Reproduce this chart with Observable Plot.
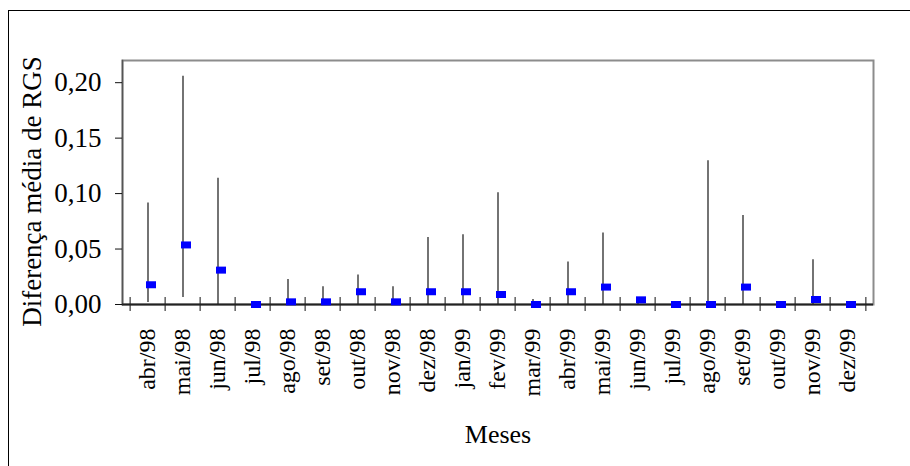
<!DOCTYPE html>
<html>
<head>
<meta charset="utf-8">
<script src="https://cdn.jsdelivr.net/npm/d3@7"></script>
<script src="https://cdn.jsdelivr.net/npm/@observablehq/plot@0.6"></script>
<style>
  html, body { margin: 0; padding: 0; background: #fff; overflow: hidden; }
  #wrap { position: relative; width: 910px; height: 466px; }
  #border { position: absolute; left: 8px; top: 10px; width: 1000px; height: 1000px;
            border: 1px solid #000; box-sizing: border-box; pointer-events: none; }
</style>
</head>
<body>
<div id="wrap"><div id="border"></div></div>
<script>
const months = ["abr/98","mai/98","jun/98","jul/98","ago/98","set/98","out/98","nov/98","dez/98",
  "jan/99","fev/99","mar/99","abr/99","mai/99","jun/99","jul/99","ago/99","set/99","out/99","nov/99","dez/99"];
const highValues = [0.0916, 0.2058, 0.1139, 0.0, 0.0226, 0.016, 0.0266, 0.016, 0.0603, 0.063, 0.1007,
  0.0045, 0.0383, 0.0645, 0.005, 0.0, 0.1296, 0.0802, 0.0, 0.0404, 0.0];
const lowValues = [0.0018, 0.0063, 0, 0, 0, 0, 0, 0, 0, 0, 0, 0, 0, 0, 0, 0, 0, 0, 0, 0, 0];
const meanValues = [0.0178, 0.0537, 0.031, 0, 0.0024, 0.0024, 0.0115, 0.0024, 0.0115, 0.0115, 0.009,
  0, 0.0115, 0.0157, 0.0042, 0, 0, 0.0157, 0, 0.0045, 0];
const yTicks = [0, 0.05, 0.10, 0.15, 0.20];
const yTitle = "Diferença média de RGS";
const xTitle = "Meses";

const data = months.map((m, i) => ({month: m, low: lowValues[i], high: highValues[i], mean: meanValues[i]}));

const width = 910, height = 466;
const marginLeft = 122, marginRight = 37, marginTop = 60, marginBottom = 162;
const bw = (width - marginLeft - marginRight) / months.length;

const rectSymbol = { draw(context) { context.rect(-5, -3.5, 10, 7); } };
const fmt = d => d.toFixed(2).replace(".", ",");

const chart = Plot.plot({
  width, height, marginLeft, marginRight, marginTop, marginBottom,
  style: { fontFamily: "'Liberation Serif', 'Times New Roman', serif", color: "#000", background: "transparent" },
  x: { type: "band", domain: months, padding: 0 },
  y: { domain: [0, 0.22] },
  marks: [
    Plot.frame({ stroke: "#8c8c8c", strokeWidth: 2 }),
    Plot.frame({ anchor: "left", stroke: "#555", strokeWidth: 1.5 }),
    Plot.axisY({ ticks: yTicks, tickFormat: fmt, tickSize: 7, tickPadding: 14, fontSize: 27, label: null, stroke: "#111" }),
    Plot.axisX({ tickSize: 14, dx: -bw / 2, dy: -7, tickFormat: () => "", label: null, stroke: "#111" }),
    Plot.axisX({ ticks: [months[months.length - 1]], tickSize: 14, dx: bw / 2, dy: -7, tickFormat: () => "", label: null, stroke: "#111" }),
    Plot.axisX({ tickSize: 0, tickPadding: 24, tickRotate: -90, fontSize: 24, label: null, dx: -1 }),
    Plot.ruleX(data, { x: "month", y1: "low", y2: "high", stroke: "#000", strokeWidth: 1.1 }),
    Plot.ruleY([0], { stroke: "#222", strokeWidth: 2 }),
    Plot.dot(data, { x: "month", y: "mean", symbol: rectSymbol, fill: "#0000ff", stroke: "none", dx: 3 }),
    Plot.text([yTitle], { text: d => d, frameAnchor: "left", textAnchor: "middle", lineAnchor: "middle", rotate: -90, dx: -90, dy: 9, fontSize: 27 }),
    Plot.text([xTitle], { text: d => d, frameAnchor: "bottom", textAnchor: "middle", lineAnchor: "middle", dy: 130, fontSize: 26 })
  ]
});
document.getElementById("wrap").prepend(chart);
</script>
</body>
</html>
